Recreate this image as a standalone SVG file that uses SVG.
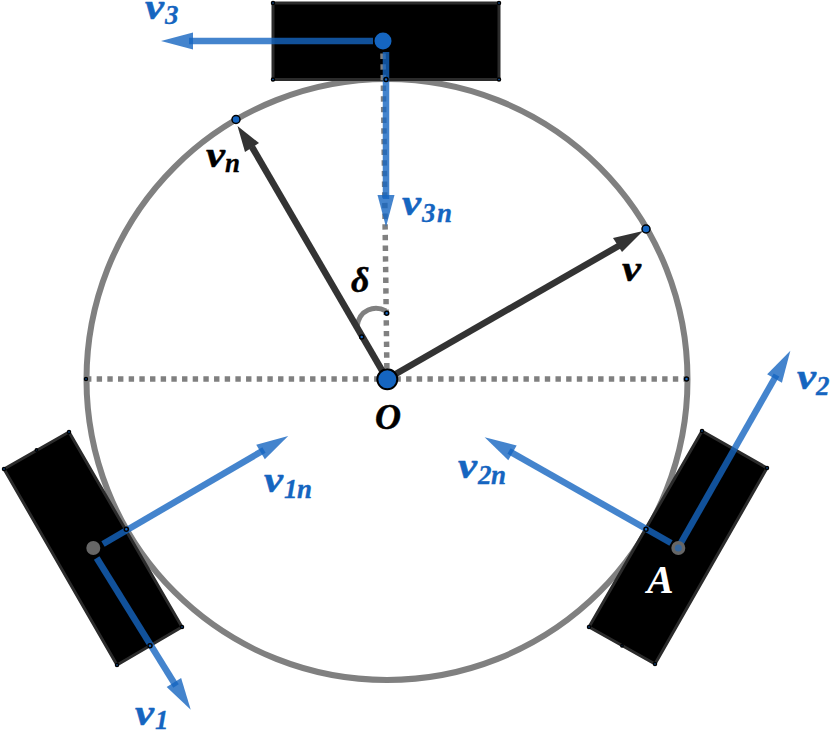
<svg xmlns="http://www.w3.org/2000/svg" width="830" height="731" viewBox="0 0 830 731">
<style>
text{font-family:"Liberation Serif","DejaVu Serif",serif;font-weight:bold;font-style:italic;font-size:36px;stroke-width:.5}
.b{fill:#1565c0;stroke:#1565c0}.k{fill:#000;stroke:#000}
.s{font-size:27px;stroke-width:.3}
.wheel{fill:#000;stroke:#2b2b2b;stroke-width:3;stroke-linejoin:round}
.rim{fill:none;stroke:#808080;stroke-width:6}
.dot{fill:none;stroke:#808080;stroke-width:5.500;stroke-dasharray:5.400 5.270}
.vb{fill:none;stroke:#1565c0;stroke-opacity:.8;stroke-width:6.500;marker-end:url(#hb)}
.vk{fill:none;stroke:#333;stroke-width:6.500}
.p{fill:#1565c0;stroke:#000;stroke-width:1.500}
</style>
<defs>
<marker id="hb" markerUnits="userSpaceOnUse" markerWidth="36" markerHeight="20" viewBox="0 0 36 20" refX="4" refY="10" orient="auto" overflow="visible"><path d="M0 1.500L32 10L0 18.500Z" fill="#1565c0" fill-opacity=".8"/></marker>
</defs>
<g id="rim"><circle class="rim" cx="387" cy="379.500" r="300.500"/></g>
<g id="wheel-3"><rect class="wheel" x="273" y="3" width="226" height="76.500"/>
<circle class="p" cx="273" cy="3" r="1.500"/><circle class="p" cx="499" cy="3" r="1.500"/><circle class="p" cx="273" cy="79.500" r="1.500"/><circle class="p" cx="499" cy="79.500" r="1.500"/></g>
<g id="wheel-1"><path class="wheel" d="M4 469L69 432L182 627L117 665Z"/>
<circle class="p" cx="4" cy="469" r="1.500"/><circle class="p" cx="69" cy="432" r="1.500"/><circle class="p" cx="182" cy="627" r="1.500"/><circle class="p" cx="117" cy="665" r="1.500"/><circle class="p" cx="36.500" cy="450" r="1.200"/></g>
<g id="wheel-2"><path class="wheel" d="M702 431L767 468L655 664L589 627Z"/>
<circle class="p" cx="702" cy="431" r="1.500"/><circle class="p" cx="767" cy="468" r="1.500"/><circle class="p" cx="655" cy="664" r="1.500"/><circle class="p" cx="589" cy="627" r="1.500"/><circle class="p" cx="622" cy="645.700" r="1.200"/></g>
<g id="connectors">
<path class="dot" d="M86 379H688"/>
<path class="dot" d="M387 379L383 52"/>
<path d="M386 311C375 305 359 309 357 327" fill="none" stroke="#808080" stroke-width="5"/>
<path class="vk" d="M387 379L252 147"/>
<path d="M237.500 126L259 143L245 152Z" fill="#333"/>
<path class="vk" d="M387 379L622 244"/>
<path d="M643 231L622 252L613 238Z" fill="#333"/>
<path class="vb" d="M373 41H189"/>
<path class="vb" d="M386 52V199"/>
<path class="vb" d="M103 544L264 450"/>
<path class="vb" d="M96.700 558L176 686"/>
<path class="vb" d="M678 548L776.500 375"/>
<path class="vb" d="M671 543L509 451"/>
</g>
<g id="hub-3"><circle cx="383" cy="41" r="8.500" fill="#1565c0"/></g>
<g id="hub-1"><circle cx="93.300" cy="548" r="7" fill="#666"/></g>
<g id="hub-2"><circle cx="678.300" cy="548" r="7" fill="#666"/><circle cx="678.300" cy="548" r="3.500" fill="#1565c0" fill-opacity=".6"/></g>
<g id="origin"><circle cx="387.300" cy="379.300" r="10" fill="#1565c0" stroke="#000" stroke-width="2"/></g>
<g id="points">
<circle class="p" cx="236" cy="119.500" r="4"/><circle class="p" cx="646" cy="229" r="4"/>
<circle class="p" cx="386" cy="79.500" r="2"/><circle class="p" cx="126.300" cy="529.300" r="2"/><circle class="p" cx="150" cy="645.700" r="2"/><circle class="p" cx="646" cy="529.300" r="2"/>
<circle class="p" cx="86" cy="379" r="1.500"/><circle class="p" cx="686.500" cy="379" r="2"/><circle class="p" cx="386.700" cy="313.300" r="2"/><circle class="p" cx="361.700" cy="337" r="2"/>
</g>
<g id="labels">
<text class="b" x="145" y="19" textLength="19" lengthAdjust="spacingAndGlyphs">v</text><text class="b s" x="165" y="24">3</text>
<text class="b" x="402" y="215" textLength="19" lengthAdjust="spacingAndGlyphs">v</text><text class="b s" x="422" y="222">3</text><text class="b s" x="437" y="222">n</text>
<text class="k" x="206" y="167" textLength="19" lengthAdjust="spacingAndGlyphs">v</text><text class="k s" x="225" y="172">n</text>
<text class="k" x="622" y="281" textLength="19" lengthAdjust="spacingAndGlyphs">v</text>
<text class="k" x="351" y="292">δ</text>
<text class="k" x="375" y="429">O</text>
<text x="647" y="593" fill="#fff" style="font-size:40px">A</text>
<text class="b" x="264" y="492" textLength="19" lengthAdjust="spacingAndGlyphs">v</text><text class="b s" x="284" y="498">1</text><text class="b s" x="297" y="498">n</text>
<text class="b" x="135" y="725" textLength="19" lengthAdjust="spacingAndGlyphs">v</text><text class="b s" x="155" y="729">1</text>
<text class="b" x="797" y="389" textLength="19" lengthAdjust="spacingAndGlyphs">v</text><text class="b s" x="816" y="395">2</text>
<text class="b" x="458" y="478" textLength="19" lengthAdjust="spacingAndGlyphs">v</text><text class="b s" x="478" y="484">2</text><text class="b s" x="491" y="484">n</text>
</g>
</svg>
